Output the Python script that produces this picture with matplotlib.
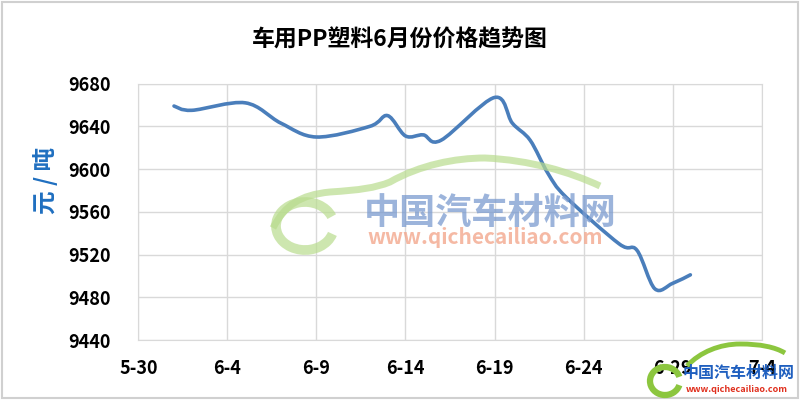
import matplotlib
matplotlib.use("Agg")
import matplotlib.pyplot as plt
import matplotlib.dates as mdates
import numpy as np
import pandas as pd
from matplotlib.path import Path
from matplotlib.patches import PathPatch, Rectangle, Arc

plt.rcParams['font.family'] = ['Noto Sans CJK SC', 'DejaVu Sans']

# price data (yuan / ton)
dates = ["6-1", "6-2", "6-5", "6-7", "6-9", "6-12", "6-13", "6-14", "6-15", "6-16",
         "6-19", "6-20", "6-21", "6-22", "6-23", "6-26", "6-27", "6-28", "6-29", "6-30"]
prices = [9659, 9655, 9662, 9643, 9630, 9640, 9650, 9631, 9632, 9627,
          9667, 9643, 9627, 9596, 9574, 9530, 9524, 9488, 9493, 9501]
tick_dates = ["5-30", "6-4", "6-9", "6-14", "6-19", "6-24", "6-29", "7-4"]
title = "车用PP塑料6月份价格趋势图"
ylabel = "元 / 吨"

line_color = "#4a7ebb"
grid_color = "#d9d9d9"


def to_num(ds):
    return mdates.date2num(pd.to_datetime(["2019-" + d for d in ds], format="%Y-%m-%d"))


def px(xp, yp):
    # pixel position (top-left origin) -> figure fraction, for the watermark only
    return (xp / 800, 1 - yp / 400)


x = to_num(dates)
y = np.array(prices, dtype=float)
xt = to_num(tick_dates)

fig = plt.figure(figsize=(8, 4), dpi=100)
ax = fig.add_axes([0.173, 0.15, 0.779, 0.641])

# excel-like smoothed line: cubic bezier through data points
verts = [(x[0], y[0])]
codes = [Path.MOVETO]
n = len(x)
for i in range(n - 1):
    p0 = np.array([x[max(i - 1, 0)], y[max(i - 1, 0)]])
    p1 = np.array([x[i], y[i]])
    p2 = np.array([x[i + 1], y[i + 1]])
    p3 = np.array([x[min(i + 2, n - 1)], y[min(i + 2, n - 1)]])
    c1 = p1 + (p2 - p0) / 6
    c2 = p2 - (p3 - p1) / 6
    verts += [tuple(c1), tuple(c2), tuple(p2)]
    codes += [Path.CURVE4] * 3
ax.add_patch(PathPatch(Path(verts, codes), facecolor="none", edgecolor=line_color,
                       lw=2.6, capstyle="round", joinstyle="round", zorder=3))

ax.set_xlim(xt[0], xt[-1])
ax.set_ylim(9440, 9680)
ax.set_xticks(xt)
ax.set_xticklabels(tick_dates)
ax.set_yticks(np.arange(9440, 9681, 40))
ax.grid(True, color=grid_color, lw=1)
ax.set_axisbelow(True)
for s in ax.spines.values():
    s.set_color(grid_color)
ax.tick_params(length=0, labelsize=13, pad=14)
ax.tick_params(axis="y", pad=20)
for lab in ax.get_xticklabels() + ax.get_yticklabels():
    lab.set_fontweight("bold")

# title is centred on the whole picture, not on the plot area
fig.text(0.5, 0.9, title, fontsize=16.5, fontweight="bold", ha="center", va="center")
fig.text(0.057, 0.55, ylabel, rotation=90, color="#1f6fc0", fontsize=17,
         fontweight="bold", ha="center", va="center")

# --- watermark in the middle ---
swoosh = [px(273, 228), px(285, 205), px(300, 195), px(330, 192),
          px(360, 190), px(375, 188), px(390, 182),
          px(420, 165), px(455, 158), px(485, 158),
          px(530, 160), px(570, 172), px(600, 186)]
sw_codes = [Path.MOVETO] + [Path.CURVE4] * 12
fig.patches.append(PathPatch(Path(swoosh, sw_codes), facecolor="none", edgecolor="#b9dc8e",
                             lw=5, alpha=0.7, transform=fig.transFigure, zorder=1))
fig.patches.append(Arc(px(305, 226), 58 / 800, 48 / 400, theta1=35, theta2=330,
                       transform=fig.transFigure, color="#b9dc8e", lw=7, alpha=0.7, zorder=1))
fig.text(*px(490, 213), "中国汽车材料网", fontsize=26, color="#7b9bcf", alpha=0.75,
         ha="center", va="center", fontweight="bold", style="italic", zorder=1)
fig.text(*px(485, 237), "www.qichecailiao.com", fontsize=15, color="#f3a88e", alpha=0.8,
         ha="center", va="center", fontweight="bold", style="italic", zorder=1)

# --- logo bottom right ---
logo = [px(687, 366), px(700, 352), px(720, 344), px(740, 344),
        px(760, 344), px(775, 347), px(785, 353)]
fig.patches.append(PathPatch(Path(logo, [Path.MOVETO] + [Path.CURVE4] * 6), facecolor="none",
                             edgecolor="#8cc63f", lw=3.5, transform=fig.transFigure, zorder=5))
fig.patches.append(Arc(px(665, 381), 30 / 800, 28 / 400, theta1=30, theta2=330,
                       transform=fig.transFigure, color="#8cc63f", lw=4.5, zorder=5))
fig.text(*px(739, 373), "中国汽车材料网", fontsize=11.5, color="#1f5fbf", ha="center",
         va="center", fontweight="bold", style="italic", zorder=6)
fig.text(*px(737, 389), "www.qichecailiao.com", fontsize=6.5, color="#e0301e", ha="center",
         va="center", fontweight="bold", zorder=6)

fig.patches.append(Rectangle((0.003, 0.005), 0.994, 0.99, transform=fig.transFigure,
                             fill=False, edgecolor="#d0d0d0", lw=1.5))

fig.savefig("out.png", dpi=100)
